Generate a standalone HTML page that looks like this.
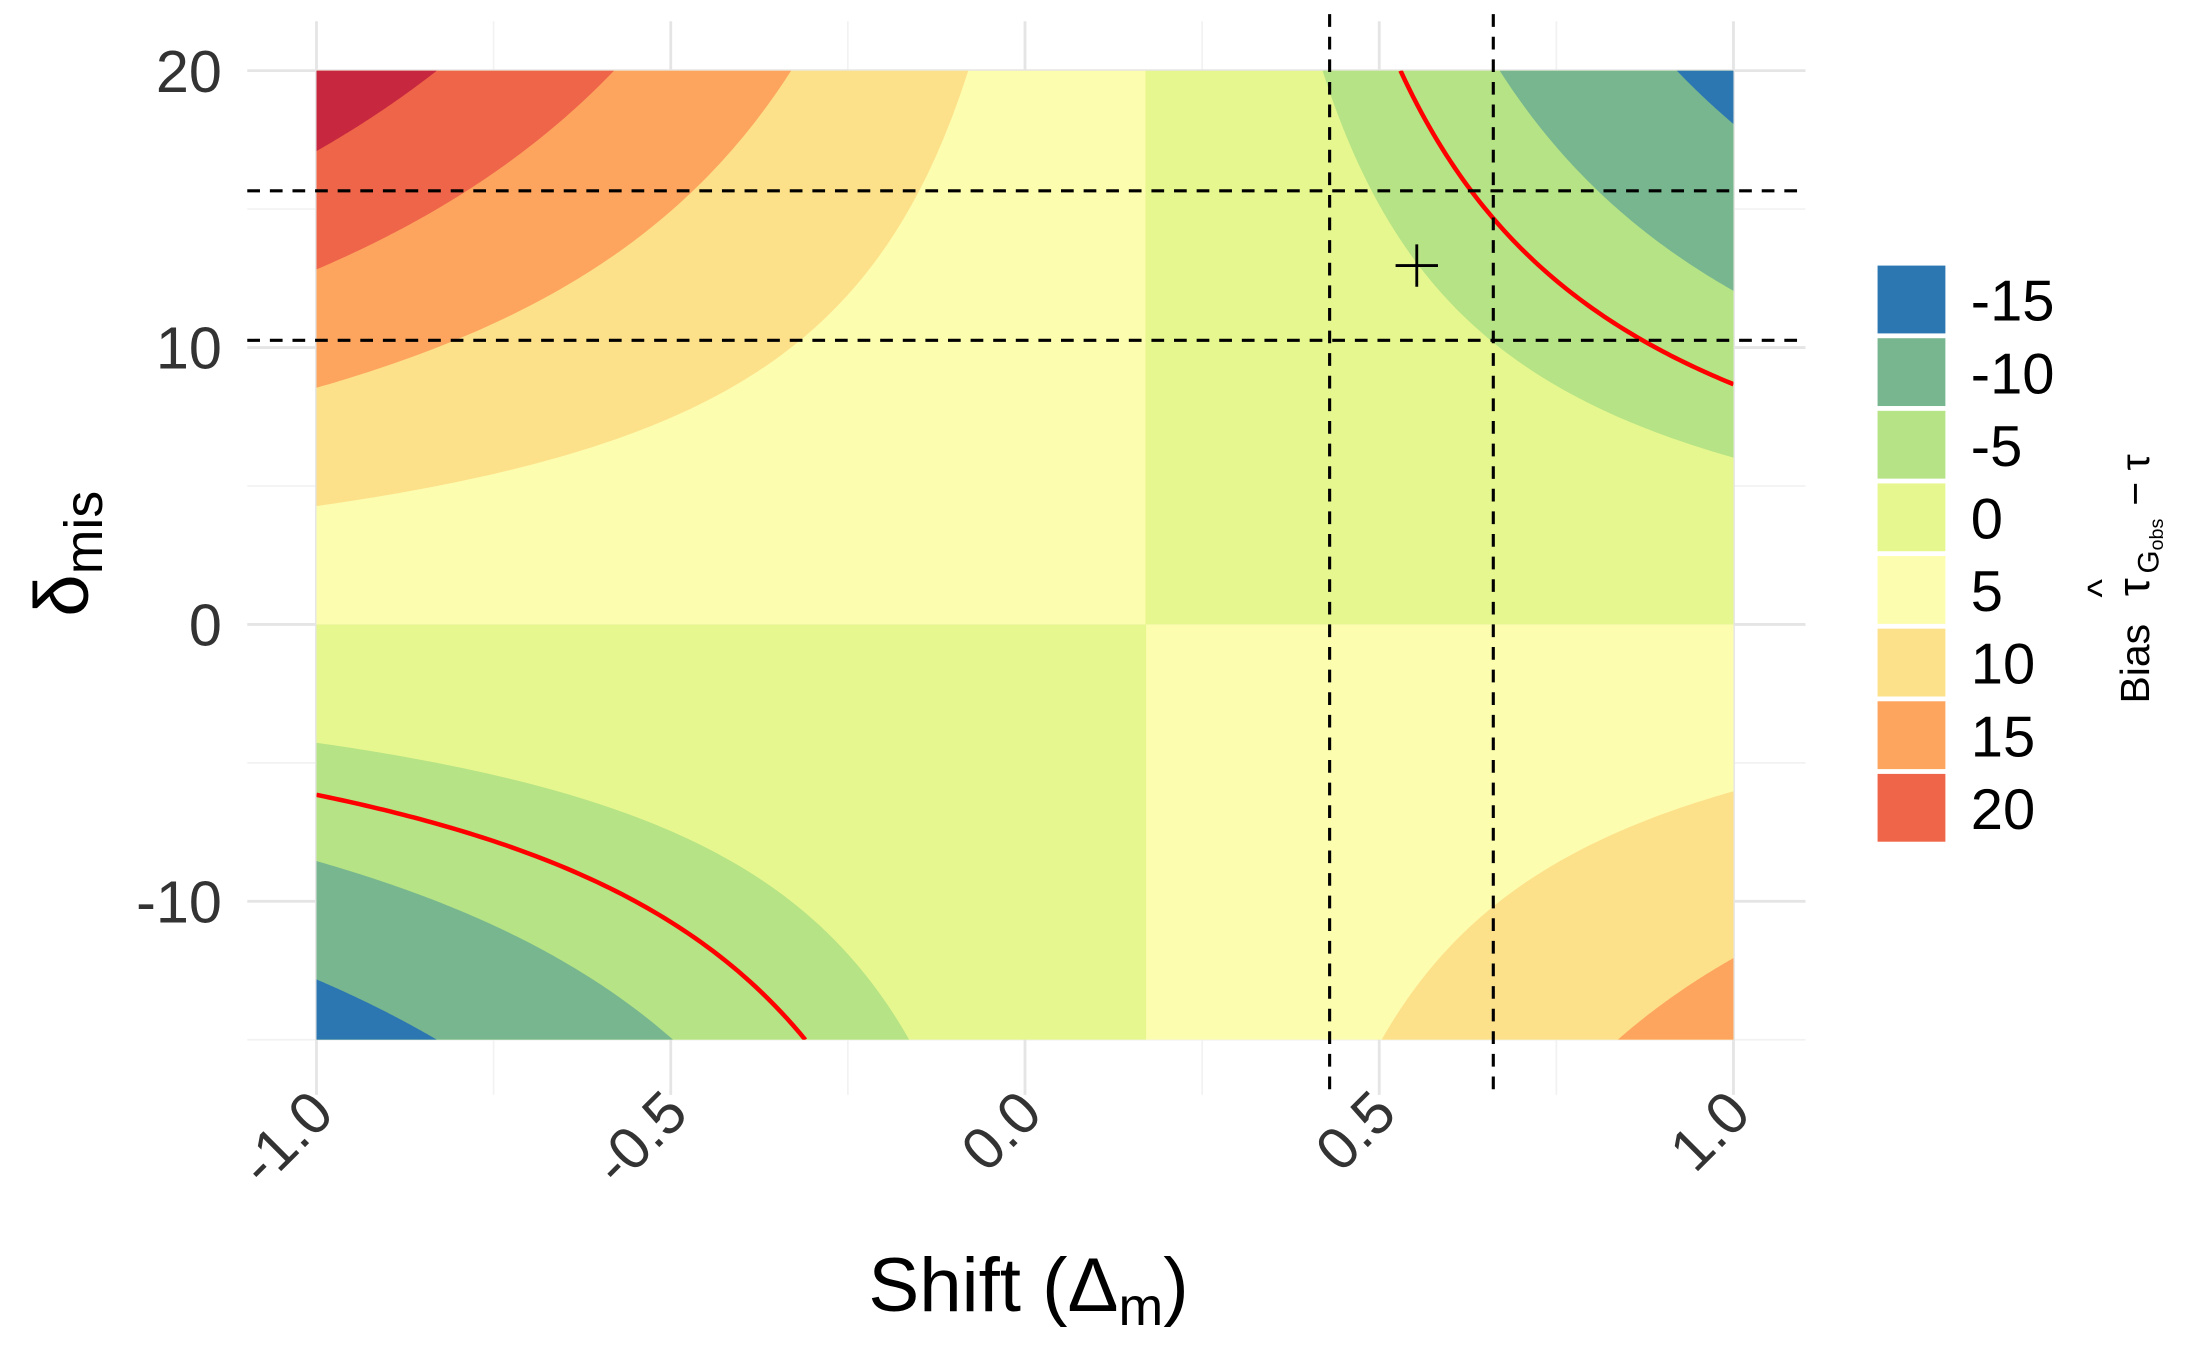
<!DOCTYPE html>
<html><head><meta charset="utf-8"><style>
html,body{margin:0;padding:0;background:#fff;}
svg{display:block;font-family:"Liberation Sans",Arial,sans-serif;}
</style></head><body>
<svg id="chart" width="2187" height="1351" viewBox="0 0 1548 956.3" xmlns="http://www.w3.org/2000/svg">
<defs><clipPath id="panelClip"><rect x="224" y="50" width="1003" height="686"/></clipPath></defs>
<g id="grid"></g>
<g id="bands" clip-path="url(#panelClip)"></g>
<g id="redlines" clip-path="url(#panelClip)"></g>
<g id="refs"></g>
<g id="axes"></g>
<g id="legend"></g>
<text x="728" y="928" font-size="54" text-anchor="middle" fill="#000">Shift (Δ<tspan font-size="38" dy="10">m</tspan><tspan dy="-10">)</tspan></text>
<text transform="translate(62,392) rotate(-90)" font-size="54" text-anchor="middle" fill="#000">δ<tspan font-size="38" dy="10">mis</tspan></text>
<g transform="translate(1521,392) rotate(-90)" fill="#000">
<text x="-106" y="0" font-size="29">Bias</text>
<text x="-30" y="0" font-size="32">τ</text>
<text x="-31" y="-24" font-size="28">^</text>
<text x="-14" y="7" font-size="21">G<tspan font-size="14" dy="3">obs</tspan></text>
<text x="34" y="0" font-size="29">− τ</text>
</g>
</svg>
<script>
// data
const shiftCenter = 0.17;            // discontinuity in shift
const bandLevels = [5, 10, 15, 20];  // |product| thresholds
const posLabels = ["5", "10", "15", "20", "25"];
const negLabels = ["0", "-5", "-10", "-15"];
const targetLevel = 7.2;             // red contour |bias|
const vLines = [0.43, 0.661];
const hLines = [15.66, 10.26];
const estPoint = [0.553, 12.96];
const xTicks = [-1, -0.5, 0, 0.5, 1];
const xTickLabels = ["-1.0", "-0.5", "0.0", "0.5", "1.0"];
const xMinor = [-0.75, -0.25, 0.25, 0.75];
const yTicks = [-10, 0, 10, 20];
const yTickLabels = ["-10", "0", "10", "20"];
const yMinor = [-15, -5, 5, 15];
const legendLabels = ["-15", "-10", "-5", "0", "5", "10", "15", "20"];

const colorMap = {"-15":"#2c76b1","-10":"#77b68f","-5":"#b5e385","0":"#e7f78f","5":"#fdfdb0","10":"#fde18a","15":"#fda55f","20":"#ef6549","25":"#c8283f"};
const X = v => 224 + (v + 1) * 501.5;
const Y = v => 442 - v * 19.6;
const NS = "http://www.w3.org/2000/svg";
function mk(tag, attrs, parent) { const e = document.createElementNS(NS, tag); for (const k in attrs) e.setAttribute(k, attrs[k]); parent.appendChild(e); return e; }

// grid
const grid = document.getElementById('grid');
xMinor.forEach(v => { const l = mk('line', {x1:X(v),x2:X(v),y1:15,y2:775,stroke:'#f2f2f2','stroke-width':1.2}, grid);   });
yMinor.forEach(v => { const l = mk('line', {x1:175,x2:1278,y1:Y(v),y2:Y(v),stroke:'#f2f2f2','stroke-width':1.2}, grid);   });
xTicks.forEach(v => { const l = mk('line', {x1:X(v),x2:X(v),y1:15,y2:775,stroke:'#e5e5e5','stroke-width':2}, grid);   });
yTicks.forEach(v => { const l = mk('line', {x1:175,x2:1278,y1:Y(v),y2:Y(v),stroke:'#e5e5e5','stroke-width':2}, grid);   });

// bands
const bands = document.getElementById('bands');
function quadrant(sx, sy, labels) {
  const xlim = sx < 0 ? 1 + shiftCenter : 1 - shiftCenter;
  const ylim = sy > 0 ? 20 : 15;
  const xa = shiftCenter, xb = shiftCenter + sx * xlim;
  const base = mk('rect', {x:Math.min(X(xa),X(xb)), y:Math.min(Y(0),Y(sy*ylim)), width:Math.abs(X(xb)-X(xa))+0.5, height:Math.abs(Y(sy*ylim)-Y(0)), fill:colorMap[labels[0]]}, bands);
  
  
  bandLevels.forEach((L, i) => {
    const lab = labels[i + 1]; if (!lab) return;
    const dmin = L / ylim; if (dmin >= xlim) return;
    const pts = [];
    const n = 80;
    for (let k = 0; k <= n; k++) { const dx = dmin + (xlim - dmin) * k / n; pts.push([X(shiftCenter + sx * dx), Y(sy * L / dx)]); }
    pts.push([X(shiftCenter + sx * xlim), Y(sy * ylim)]);
    pts.push([X(shiftCenter + sx * dmin), Y(sy * ylim)]);
    const p = mk('polygon', {points: pts.map(q => q.join(',')).join(' '), fill: colorMap[lab]}, bands);
    
    
  });
}
quadrant(-1, 1, posLabels);
quadrant(1, -1, posLabels);
quadrant(1, 1, negLabels);
quadrant(-1, -1, negLabels);

// red target contour
const red = document.getElementById('redlines');
[[1, 1], [-1, -1]].forEach(([sx, sy]) => {
  const xlim = sx < 0 ? 1 + shiftCenter : 1 - shiftCenter;
  const ylim = sy > 0 ? 20 : 15;
  const dmin = targetLevel / ylim; const pts = [];
  for (let k = 0; k <= 80; k++) { const dx = dmin + (xlim - dmin) * k / 80; pts.push([X(shiftCenter + sx * dx), Y(sy * targetLevel / dx)]); }
  const pl = mk('polyline', {points: pts.map(q => q.join(',')).join(' '), fill:'none', stroke:'#ff0000', 'stroke-width':3.2}, red);
  
  
});

// reference lines
const refs = document.getElementById('refs');
vLines.forEach(v => { const l = mk('line', {x1:X(v),x2:X(v),y1:10,y2:775,stroke:'#000','stroke-width':2.2,'stroke-dasharray':'9,7'}, refs);   });
hLines.forEach(v => { const l = mk('line', {x1:175,x2:1278,y1:Y(v),y2:Y(v),stroke:'#000','stroke-width':2.2,'stroke-dasharray':'9,7'}, refs);   });
const px = X(estPoint[0]), py = Y(estPoint[1]);
const cross = mk('path', {d:`M${px-15},${py}H${px+15}M${px},${py-15}V${py+15}`, stroke:'#000','stroke-width':2}, refs);



// axes labels
const axes = document.getElementById('axes');
yTicks.forEach((v, i) => { const t = mk('text', {x:157, y:Y(v)+15, 'font-size':42, 'text-anchor':'end', fill:'#333'}, axes); t.textContent = yTickLabels[i];   });
xTicks.forEach((v, i) => { const t = mk('text', {transform:`translate(${X(v)+14},${790}) rotate(-45)`, 'font-size':42, 'text-anchor':'end', fill:'#333'}, axes); t.textContent = xTickLabels[i];   });

// legend
const leg = document.getElementById('legend');
legendLabels.forEach((lab, i) => {
  const y0 = 188 + i * 51.4;
  const r = mk('rect', {x:1329, y:y0, width:48, height:48, fill:colorMap[lab]}, leg);
  
  
  const t = mk('text', {x:1395, y:y0+39, 'font-size':41, fill:'#000'}, leg);
  t.textContent = lab;
  
  
});
</script>
</body></html>
